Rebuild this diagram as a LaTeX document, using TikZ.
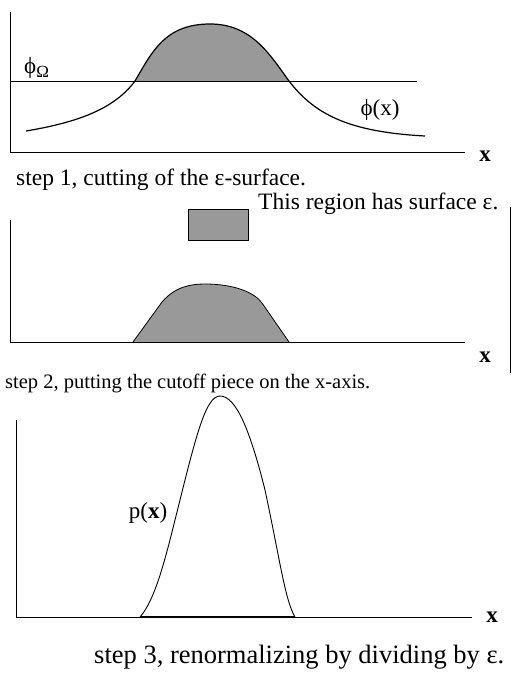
\documentclass[tikz,border=0pt]{standalone}
\usepackage{fontspec}
\setmainfont{Liberation Serif}
\usepackage{tikz}
\usetikzlibrary{positioning}

\tikzset{
  axis/.style={line width=0.9pt},
  curve/.style={line width=1.2pt},
  cutpiece/.style={fill=gray!80},
  caption/.style={anchor=west,inner sep=0pt,font=\fontsize{23.5}{28}\selectfont},
  lbl/.style={inner sep=0pt,font=\fontsize{23}{28}\selectfont},
  xlbl/.style={inner sep=0pt,font=\fontsize{23}{28}\selectfont\bfseries}
}

\begin{document}
\begin{tikzpicture}[x=1pt,y=-1pt]
\useasboundingbox (0,0) rectangle (514,675);
% step 1
\fill[cutpiece] (135,81) .. controls (152,52) and (165,24) .. (210,24)
  .. controls (252,24) and (270,55) .. (289,81) -- cycle;
\draw[axis] (10,12) -- (10,152) -- (465,152);
\draw[line width=0.7pt] (10,81) -- (417,81);
\draw[curve] (26,131) .. controls (80,122) and (115,108) .. (135,81)
  .. controls (152,52) and (165,24) .. (210,24)
  .. controls (252,24) and (270,55) .. (289,81)
  .. controls (315,115) and (350,132) .. (425,136);
\node[lbl,anchor=west] (phiomega) at (24,68) {ϕ\raisebox{-4pt}{\fontsize{17}{20}\selectfont Ω}};
\node[lbl] (phix) at (380,110) {ϕ(x)};
\node[xlbl] (xone) at (485,156) {x};
\node[caption] (capone) at (16,180) {step 1, cutting of the ε-surface.};
% step 2
\draw[cutpiece,line width=0.4pt] (188,209) rectangle (248,240);
\node[caption,anchor=west] (regtext) at (258,204) {This region has surface ε.};
\draw[line width=0.7pt] (510,207) -- (510,373);
\fill[cutpiece] (133,342) -- (162,302) .. controls (175,287) and (190,284) .. (205,284)
  .. controls (235,284) and (255,293) .. (262,303) -- (289,342) -- cycle;
\draw[line width=0.8pt] (133,342) -- (162,302) .. controls (175,287) and (190,284) .. (205,284)
  .. controls (235,284) and (255,293) .. (262,303) -- (289,342);
\draw[axis] (10,220) -- (10,342) -- (465,342);
\node[xlbl] (xtwo) at (485,357) {x};
\node[caption,font=\fontsize{20.5}{24}\selectfont] (captwo) at (5,383) {step 2, putting the cutoff piece on the x-axis.};
% step 3
\draw[axis] (16,420) -- (16,617) -- (472,617);
\draw[line width=1.6pt] (140,617) -- (295,617);
\draw[line width=0.9pt] (140,617) .. controls (155,600) and (165,560) .. (175,520)
  .. controls (195,440) and (205,396) .. (220,396)
  .. controls (236,396) and (250,430) .. (265,490)
  .. controls (280,560) and (285,600) .. (295,617);
\node[lbl] (px) at (148,513) {p(\textbf{x})};
\node[xlbl] (xthree) at (492,617) {x};
\node[caption,font=\fontsize{26.5}{30}\selectfont] (capthree) at (94,657) {step 3, renormalizing by dividing by ε.};
\end{tikzpicture}
\end{document}
